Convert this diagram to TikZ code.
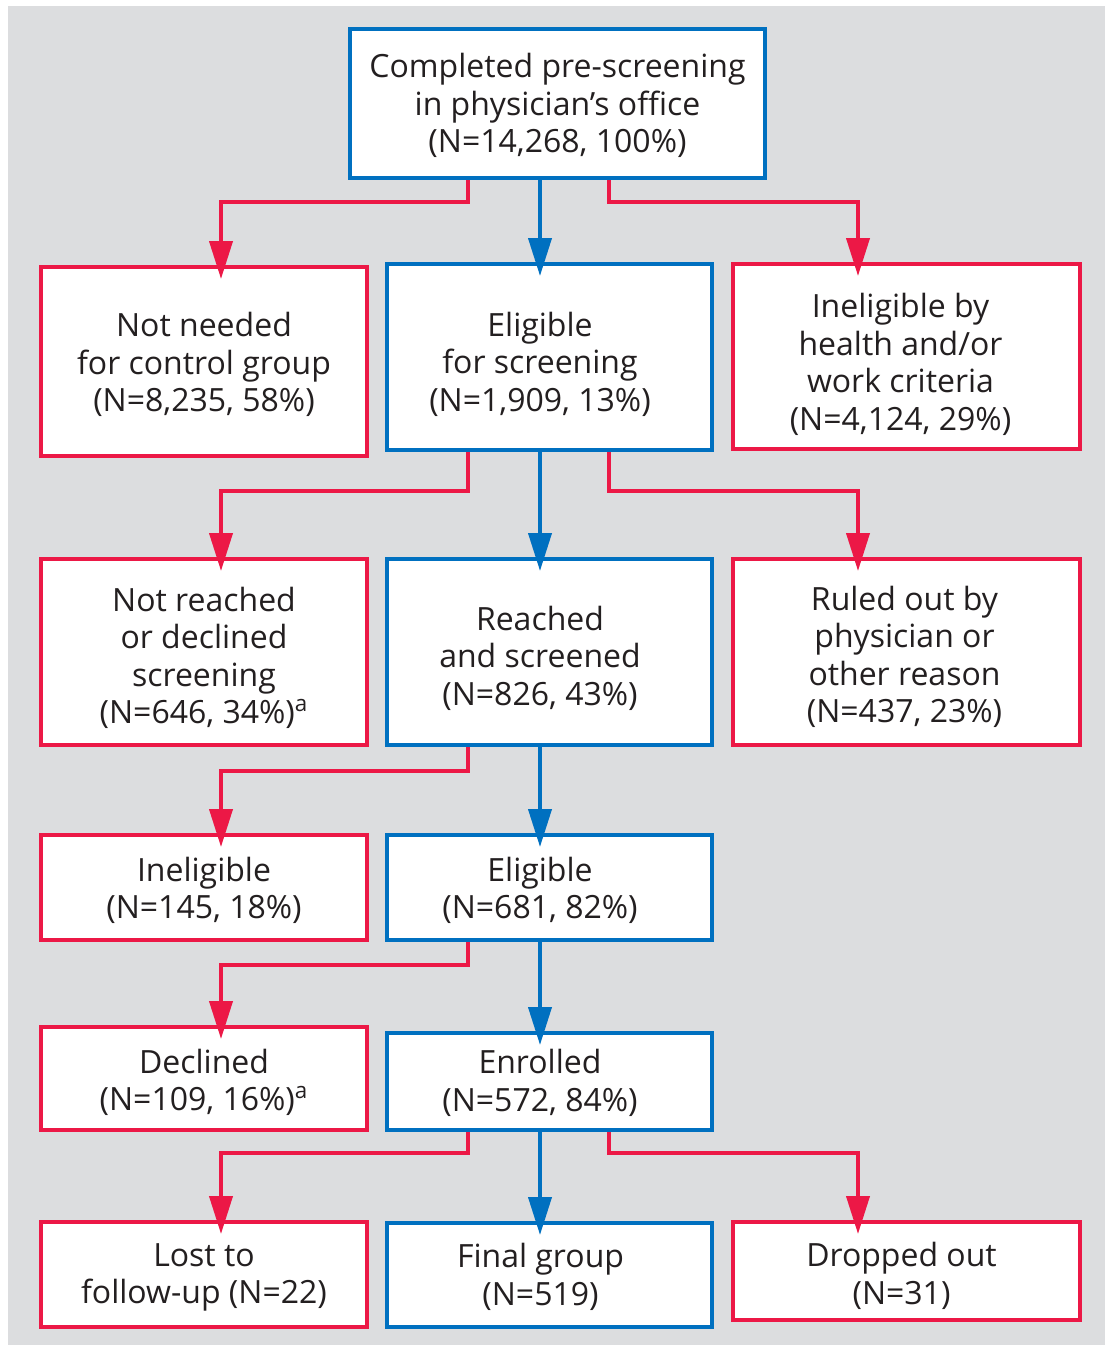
\documentclass[tikz,border=0pt]{standalone}
\usepackage{fontspec}
\setmainfont{Open Sans}
\usetikzlibrary{arrows.meta}
\definecolor{rd}{HTML}{EC1846}
\definecolor{bl}{HTML}{0070C0}
\definecolor{bg}{HTML}{DCDDDF}
\definecolor{tx}{HTML}{231F20}
\begin{document}
\begin{tikzpicture}[x=0.5pt,y=-0.5pt,
  box/.style={draw, line width=2pt, fill=white, inner sep=0pt},
  rbox/.style={box, draw=rd},
  bbox/.style={box, draw=bl},
  lbl/.style={align=center, inner sep=0pt, text=tx,
    font=\fontsize{16}{18.75}\selectfont},
  conn/.style={line width=2pt, shorten >=-7pt,
    -{Triangle[length=19pt,width=11.5pt]}},
  rconn/.style={conn, draw=rd},
  bconn/.style={conn, draw=bl}]
\useasboundingbox (0,0) rectangle (1105,1345);
\fill[white] (0,0) rectangle (1105,1345);
\fill[bg] (8,6) rectangle (1105,1345);
% columns and junction rows
\coordinate (cl) at (468,0);
\coordinate (cm) at (540,0);
\coordinate (cr) at (609,0);
\coordinate (tl) at (221,0);
\coordinate (tr) at (858,0);
\coordinate (h1) at (0,202);
\coordinate (h2) at (0,491);
\coordinate (h3) at (0,771);
\coordinate (h4) at (0,965);
\coordinate (h5) at (0,1153);
% nodes
\node[bbox, minimum width=207.5pt, minimum height=74.5pt,
  label={[lbl,yshift=-1pt]center:{Completed pre-screening\\in physician's office\\(N=14,268, 100\%)}}]
  (top) at (557.5,103.5) {};
\node[rbox, minimum width=163pt, minimum height=94.5pt,
  label={[lbl,yshift=-1.5pt]center:{Not needed\\for control group\\(N=8,235, 58\%)}}]
  (A1) at (204,361.5) {};
\node[bbox, minimum width=162.5pt, minimum height=93pt,
  label={[lbl,xshift=-4.75pt,yshift=-3.5pt]center:{Eligible\\for screening\\(N=1,909, 13\%)}}]
  (B1) at (549.5,357) {};
\node[rbox, minimum width=173.5pt, minimum height=92.5pt,
  label={[lbl,xshift=-3pt,yshift=-4pt]center:{Ineligible by\\health and/or\\work criteria\\(N=4,124, 29\%)}}]
  (C1) at (906.5,356.5) {};
\node[rbox, minimum width=163pt, minimum height=93pt,
  label={[lbl,yshift=-3pt]center:{Not reached\\or declined\\screening\\(N=646, 34\%)\textsuperscript{a}}}]
  (A2) at (204,652) {};
\node[bbox, minimum width=162.5pt, minimum height=93pt,
  label={[lbl,xshift=-4.75pt,yshift=-3pt]center:{Reached\\and screened\\(N=826, 43\%)}}]
  (B2) at (549.5,652) {};
\node[rbox, minimum width=173.5pt, minimum height=93pt,
  label={[lbl,xshift=-1pt,yshift=-2.5pt]center:{Ruled out by\\physician or\\other reason\\(N=437, 23\%)}}]
  (C2) at (906.5,652) {};
\node[rbox, minimum width=163pt, minimum height=52.5pt,
  label={[lbl,yshift=-1.5pt]center:{Ineligible\\(N=145, 18\%)}}]
  (A3) at (204,887.5) {};
\node[bbox, minimum width=162.5pt, minimum height=52.5pt,
  label={[lbl,xshift=-4.75pt,yshift=-1.5pt]center:{Eligible\\(N=681, 82\%)}}]
  (B3) at (549.5,887.5) {};
\node[rbox, minimum width=163pt, minimum height=51.5pt,
  label={[lbl,yshift=-2pt]center:{Declined\\(N=109, 16\%)\textsuperscript{a}}}]
  (A4) at (204,1078.5) {};
\node[bbox, minimum width=162.5pt, minimum height=48.5pt,
  label={[lbl,xshift=-4.75pt,yshift=-0.75pt]center:{Enrolled\\(N=572, 84\%)}}]
  (B4) at (549.5,1081.5) {};
\node[rbox, minimum width=163pt, minimum height=52.5pt,
  label={[lbl,yshift=-1.5pt]center:{Lost to\\follow-up (N=22)}}]
  (A5) at (204,1274.5) {};
\node[bbox, minimum width=162.5pt, minimum height=52pt,
  label={[lbl,xshift=-4.5pt,yshift=-1pt]center:{Final group\\(N=519)}}]
  (B5) at (549.5,1275) {};
\node[rbox, minimum width=173.5pt, minimum height=49pt,
  label={[lbl,xshift=-2.5pt,yshift=-2.5pt]center:{Dropped out\\(N=31)}}]
  (C5) at (906.5,1271) {};
% connectors
\draw[rconn] (top.south -| cl) |- (h1 -| tl) -- (A1.north -| tl);
\draw[bconn] (top.south -| cm) -- (B1.north -| cm);
\draw[rconn] (top.south -| cr) |- (h1 -| tr) -- (C1.north -| tr);
\draw[rconn] (B1.south -| cl) |- (h2 -| tl) -- (A2.north -| tl);
\draw[bconn] (B1.south -| cm) -- (B2.north -| cm);
\draw[rconn] (B1.south -| cr) |- (h2 -| tr) -- (C2.north -| tr);
\draw[rconn] (B2.south -| cl) |- (h3 -| tl) -- (A3.north -| tl);
\draw[bconn] (B2.south -| cm) -- (B3.north -| cm);
\draw[rconn] (B3.south -| cl) |- (h4 -| tl) -- (A4.north -| tl);
\draw[bconn] (B3.south -| cm) -- (B4.north -| cm);
\draw[rconn] (B4.south -| cl) |- (h5 -| tl) -- (A5.north -| tl);
\draw[bconn] (B4.south -| cm) -- (B5.north -| cm);
\draw[rconn] (B4.south -| cr) |- (h5 -| tr) -- (C5.north -| tr);
\end{tikzpicture}
\end{document}
